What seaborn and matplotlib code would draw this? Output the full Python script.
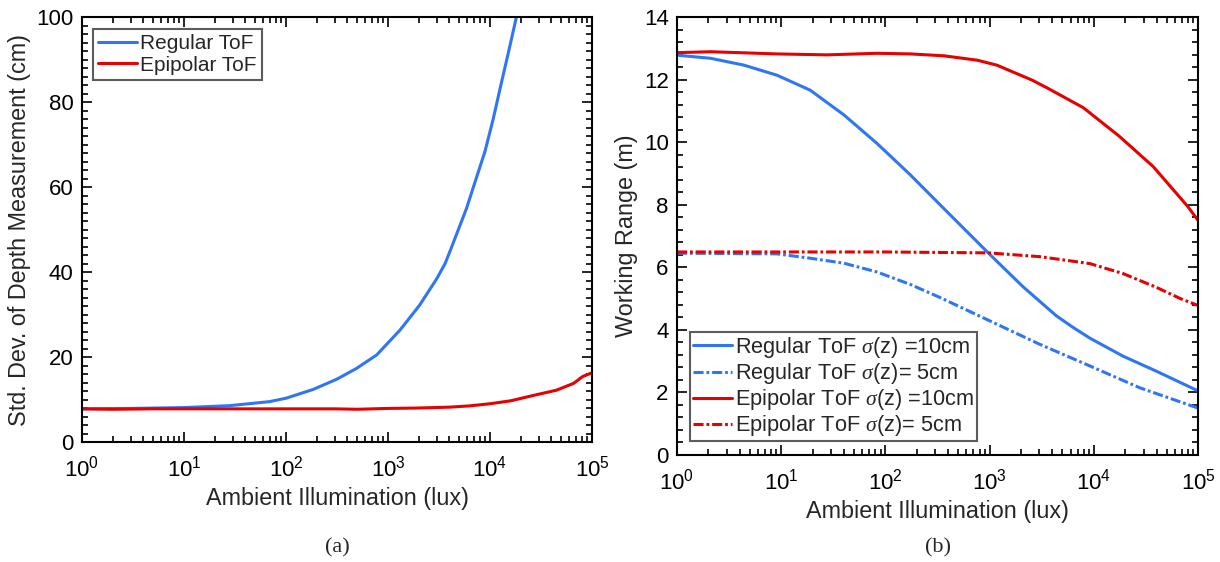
import numpy as np
import pandas as pd
import matplotlib
matplotlib.use("Agg")
import matplotlib.pyplot as plt
import matplotlib.ticker as mticker
import seaborn as sns

# ---------------- data ----------------
# (a) std. dev. of depth measurement (cm) vs ambient illumination (lux)
a_reg_x = [1, 3, 10, 28, 69, 100, 186, 316, 490, 776, 1318, 2042, 3020, 3630, 4070, 4900,
           5890, 7410, 8910, 10700, 12900, 15100, 18000, 19500]
a_reg_y = [7.8, 7.9, 8.1, 8.55, 9.5, 10.3, 12.4, 14.8, 17.3, 20.5, 26.4, 32.2, 38.5, 42.0, 45.0,
           50.0, 55.0, 62.4, 68.3, 75.8, 84.4, 91.5, 99.6, 104.0]
a_epi_x = [1, 2, 5, 10, 30, 100, 300, 500, 1000, 2000, 4000, 6300, 10000, 16000, 26000,
           45000, 66000, 81000, 100000]
a_epi_y = [7.8, 7.7, 7.8, 7.8, 7.8, 7.8, 7.8, 7.7, 7.9, 8.0, 8.2, 8.5, 9.0, 9.7, 10.9,
           12.2, 13.8, 15.4, 16.3]

# (b) working range (m) vs ambient illumination (lux)
b_reg10_x = [1, 2.1, 4.4, 9.1, 19, 40, 83, 174, 363, 977, 2090, 4365, 6310, 9120, 19050,
             39800, 100000]
b_reg10_y = [12.78, 12.68, 12.46, 12.14, 11.66, 10.87, 9.96, 8.95, 7.88, 6.45, 5.38,
             4.45, 4.08, 3.74, 3.16, 2.68, 2.05]
b_reg5_x = [1, 9.1, 19, 40, 83, 174, 331, 1000, 3020, 9120, 27540, 100000]
b_reg5_y = [6.45, 6.43, 6.29, 6.13, 5.85, 5.45, 5.04, 4.29, 3.54, 2.85, 2.15, 1.5]
b_epi10_x = [1, 2.1, 9.1, 27.5, 83, 174, 363, 759, 1175, 2570, 3720, 7940, 17380, 37150,
             79430, 100000]
b_epi10_y = [12.86, 12.89, 12.82, 12.79, 12.84, 12.82, 12.76, 12.62, 12.46, 11.98, 11.7,
             11.1, 10.2, 9.22, 7.95, 7.5]
b_epi5_x = [1, 10, 100, 977, 3020, 9120, 19050, 39800, 67600, 100000]
b_epi5_y = [6.49, 6.49, 6.49, 6.46, 6.34, 6.12, 5.8, 5.36, 5.0, 4.78]

labels_a = ["Regular ToF", "Epipolar ToF"]
labels_b = [r"Regular ToF $\sigma$(z) =10cm", r"Regular ToF $\sigma$(z)= 5cm",
            r"Epipolar ToF $\sigma$(z) =10cm", r"Epipolar ToF $\sigma$(z)= 5cm"]

BLUE = "#2f76f5"
RED = "#e60000"

# ---------------- style ----------------
sns.set_style("ticks")
plt.rcParams["font.family"] = ["Liberation Sans", "DejaVu Sans"]
plt.rcParams["mathtext.fontset"] = "custom"
plt.rcParams["mathtext.rm"] = "Liberation Sans"
plt.rcParams["mathtext.it"] = "Liberation Serif:italic"
plt.rcParams["mathtext.default"] = "it"

W, H = 1220, 562
fig = plt.figure(figsize=(W / 100, H / 100), dpi=100)

def rect(l, t, r, b):
    return [l / W, (H - b) / H, (r - l) / W, (b - t) / H]

ax1 = fig.add_axes(rect(82, 17, 592, 442))
ax2 = fig.add_axes(rect(677, 17, 1198, 455))

df_a = pd.concat([
    pd.DataFrame({"x": a_reg_x, "y": a_reg_y, "s": labels_a[0]}),
    pd.DataFrame({"x": a_epi_x, "y": a_epi_y, "s": labels_a[1]}),
])
for lab, col in zip(labels_a, [BLUE, RED]):
    sns.lineplot(data=df_a[df_a.s == lab], x="x", y="y", ax=ax1, color=col, lw=2.2,
                 label=lab, estimator=None, sort=False)

dashdot = (3.3, 0.95, 0.9, 0.95)
series_b = [(b_reg10_x, b_reg10_y, BLUE, None), (b_reg5_x, b_reg5_y, BLUE, dashdot),
            (b_epi10_x, b_epi10_y, RED, None), (b_epi5_x, b_epi5_y, RED, dashdot)]
for (xs, ys, col, ds), lab in zip(series_b, labels_b):
    d = pd.DataFrame({"x": xs, "y": ys})
    line = sns.lineplot(data=d, x="x", y="y", ax=ax2, color=col, lw=2.2, label=lab,
                        estimator=None, sort=False)
    if ds is not None:
        line.lines[-1].set_dashes(ds)

for ax in (ax1, ax2):
    ax.set_xscale("log")
    ax.set_xlim(1, 1e5)
    ax.xaxis.set_major_locator(mticker.LogLocator(base=10, numticks=10))
    ax.xaxis.set_minor_locator(mticker.LogLocator(base=10, subs=np.arange(2, 10), numticks=20))
    ax.xaxis.set_minor_formatter(mticker.NullFormatter())
    ax.tick_params(which="both", direction="in", top=True, right=True, colors="black",
                   labelsize=16, width=1.2)
    ax.tick_params(which="major", length=7, pad=6)
    ax.tick_params(which="minor", length=4)
    ax.tick_params(axis="x", which="major", pad=10)
    for sp in ax.spines.values():
        sp.set_visible(True)
        sp.set_linewidth(1.5)
        sp.set_color("black")
    ax.set_xlabel("Ambient Illumination (lux)", fontsize=16.8, labelpad=4)

ax1.set_ylim(0, 100)
ax1.yaxis.set_major_locator(mticker.MultipleLocator(20))
ax1.yaxis.set_minor_locator(mticker.MultipleLocator(2))
ax1.set_ylabel("Std. Dev. of Depth Measurement (cm)", fontsize=16.8, labelpad=4)

ax2.set_ylim(0, 14)
ax2.yaxis.set_major_locator(mticker.MultipleLocator(2))
ax2.yaxis.set_minor_locator(mticker.MultipleLocator(0.4))
ax2.set_ylabel("Working Range (m)", fontsize=16.8, labelpad=4)

leg1 = ax1.legend(loc="upper left", bbox_to_anchor=(0.022, 0.972), borderaxespad=0,
                  fontsize=15, frameon=True, fancybox=False, edgecolor="#333333",
                  handlelength=1.85, handletextpad=0.15, labelspacing=0.12,
                  borderpad=0.25)
leg1.get_frame().set_linewidth(1.5)
leg2 = ax2.legend(loc="lower left", bbox_to_anchor=(0.025, 0.032), borderaxespad=0,
                  fontsize=15.7, frameon=True, fancybox=False, edgecolor="#333333",
                  handlelength=1.8, handletextpad=0.15, labelspacing=0.05,
                  borderpad=0.12)
leg2.get_frame().set_linewidth(1.5)

fig.text(337 / W, 1 - 548 / H, "(a)", ha="center", va="center", fontsize=16,
         family="Liberation Serif")
fig.text(938 / W, 1 - 548 / H, "(b)", ha="center", va="center", fontsize=16,
         family="Liberation Serif")

fig.savefig("out.png", dpi=100)
